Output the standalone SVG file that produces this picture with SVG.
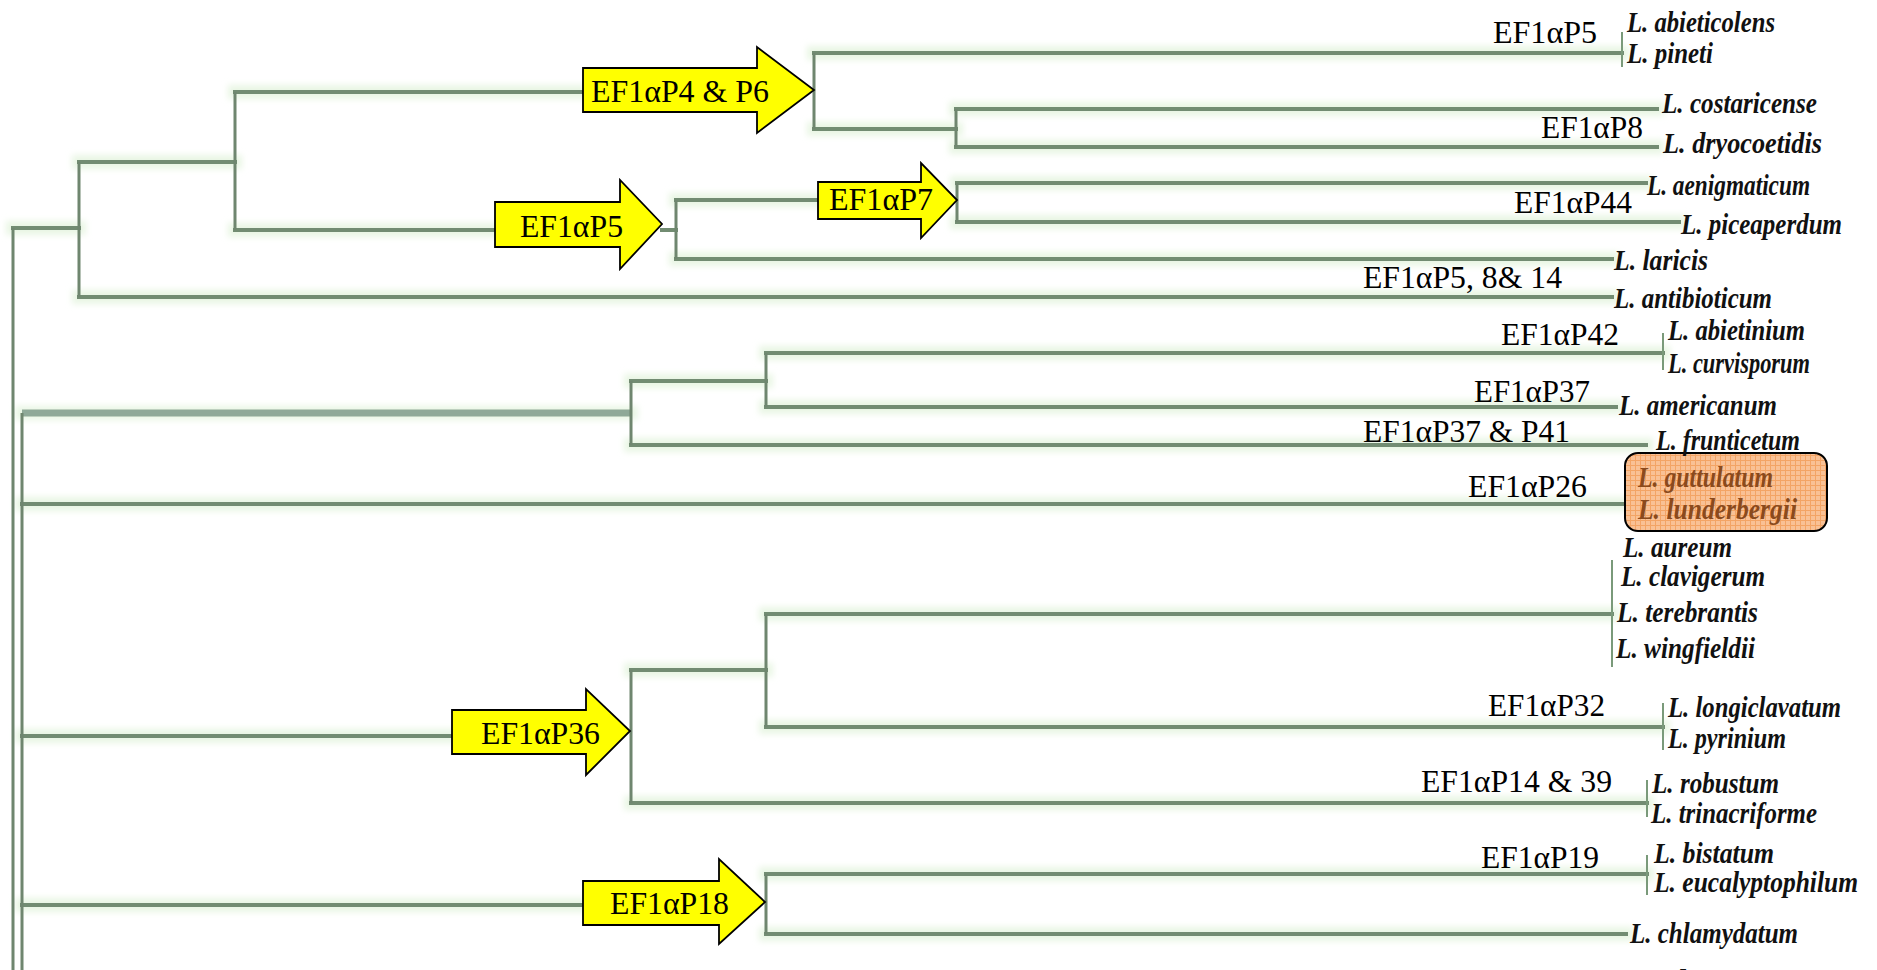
<svg xmlns="http://www.w3.org/2000/svg" width="1877" height="970" viewBox="0 0 1877 970">
  <defs>
    <style>
      .halo { fill: none; stroke: #e9f6e4; stroke-width: 14; stroke-linecap: square; }
      .br { fill: none; stroke: #728c72; stroke-width: 4; stroke-linecap: square; }
      .vt { fill: none; stroke: #6f866f; stroke-width: 3; }
      .thick { fill: none; stroke: #8fa998; stroke-width: 7; }
      .tick { fill: none; stroke: #7a9a7a; stroke-width: 2; }
      .arrow { fill: #ffff00; stroke: #000000; stroke-width: 1.8; stroke-linejoin: miter; }
      .lbl { font-family: "Liberation Serif", "Times New Roman", serif; font-size: 31px; fill: #000000; }
      .sp { font-family: "Liberation Serif", "Times New Roman", serif; font-size: 30px; font-style: italic; font-weight: bold; fill: #111111; }
      .hl { fill: #8b4a1c; }
    </style>
    <pattern id="grid" width="5" height="5" patternUnits="userSpaceOnUse">
      <rect width="5" height="5" fill="#f9c195"/>
      <path d="M0 0.5 H5 M0.5 0 V5" stroke="#f3a465" stroke-width="1"/>
    </pattern>
    <filter id="soft" x="-5%" y="-5%" width="110%" height="110%">
      <feGaussianBlur stdDeviation="3"/>
    </filter>
  </defs>

  <rect width="1877" height="970" fill="#ffffff"/>

  <!-- tree branches -->
  <g id="connectors">
    <g filter="url(#soft)">
      <path class="halo" d="M13 228 H79 M79 162 H235 M235 92 H583 M235 230 H495 M676 200 H818 M676 259 H1612 M814 53 H1622 M814 129 H956 M956 109 H1657 M956 147 H1657 M957 183 H1646 M957 222 H1679 M79 297 H1612 M22 413 H631 M631 381 H766 M766 353 H1663 M766 407 H1616 M631 445 H1646 M22 504 H1624 M22 736 H452 M631 670 H766 M766 614 H1612 M766 727 H1663 M631 803 H1647 M22 905 H583 M766 874 H1647 M766 934 H1626"/>
    </g>
    <!-- horizontal branches -->
    <path class="br" d="M13 228 H79 M79 162 H235 M235 92 H583 M235 230 H495 M662 230 H676 M676 200 H818 M676 259 H1612 M814 53 H1622 M814 129 H956 M956 109 H1657 M956 147 H1657 M957 183 H1646 M957 222 H1679 M79 297 H1612"/>
    <path class="thick" d="M22 413 H631"/>
    <path class="br" d="M631 381 H766 M766 353 H1663 M766 407 H1616 M631 445 H1646 M22 504 H1624 M22 736 H452 M631 670 H766 M766 614 H1612 M766 727 H1663 M631 803 H1647 M22 905 H583 M766 874 H1647 M766 934 H1626"/>
    <!-- vertical joins -->
    <path class="vt" d="M79 162 V297 M235 92 V230 M676 200 V259 M814 53 V129 M956 109 V147 M957 183 V222 M631 381 V445 M766 353 V407 M631 670 V803 M766 614 V727 M766 874 V934"/>
    <path class="vt" d="M13 228 V970"/>
    <path class="vt" stroke="#6aa07a" d="M22 413 V970"/>
    <!-- terminal ticks -->
    <path class="tick" d="M1622 32 V67 M1663 333 V370 M1612 560 V667 M1663 703 V750 M1647 780 V817 M1647 855 V895"/>
  </g>

  <!-- marker arrows -->
  <g id="arrow-p4-p6">
    <polygon class="arrow" points="583,68 757,68 757,47 814,90 757,133 757,112 583,112"/>
    <text class="lbl" x="591" y="102" textLength="178" lengthAdjust="spacingAndGlyphs">EF1αP4 &amp; P6</text>
  </g>
  <g id="arrow-p5">
    <polygon class="arrow" points="495,202 620,202 620,180 662,224 620,269 620,247 495,247"/>
    <text class="lbl" x="520" y="237" textLength="103" lengthAdjust="spacingAndGlyphs">EF1αP5</text>
  </g>
  <g id="arrow-p7">
    <polygon class="arrow" points="818,182 921,182 921,163 957,200 921,238 921,219 818,219"/>
    <text class="lbl" x="829" y="210" textLength="104" lengthAdjust="spacingAndGlyphs">EF1αP7</text>
  </g>
  <g id="arrow-p36">
    <polygon class="arrow" points="452,710 586,710 586,689 630,731 586,775 586,754 452,754"/>
    <text class="lbl" x="481" y="744" textLength="119" lengthAdjust="spacingAndGlyphs">EF1αP36</text>
  </g>
  <g id="arrow-p18">
    <polygon class="arrow" points="583,881 719,881 719,859 765,902 719,944 719,925 583,925"/>
    <text class="lbl" x="610" y="914" textLength="119" lengthAdjust="spacingAndGlyphs">EF1αP18</text>
  </g>

  <!-- branch labels -->
  <g id="branch-labels">
    <text class="lbl" x="1493" y="43" textLength="104" lengthAdjust="spacingAndGlyphs">EF1αP5</text>
    <text class="lbl" x="1541" y="138" textLength="102" lengthAdjust="spacingAndGlyphs">EF1αP8</text>
    <text class="lbl" x="1514" y="213" textLength="118" lengthAdjust="spacingAndGlyphs">EF1αP44</text>
    <text class="lbl" x="1363" y="288" textLength="199" lengthAdjust="spacingAndGlyphs">EF1αP5, 8&amp; 14</text>
    <text class="lbl" x="1501" y="345" textLength="118" lengthAdjust="spacingAndGlyphs">EF1αP42</text>
    <text class="lbl" x="1474" y="402" textLength="116" lengthAdjust="spacingAndGlyphs">EF1αP37</text>
    <text class="lbl" x="1363" y="442" textLength="207" lengthAdjust="spacingAndGlyphs">EF1αP37 &amp; P41</text>
    <text class="lbl" x="1468" y="497" textLength="119" lengthAdjust="spacingAndGlyphs">EF1αP26</text>
    <text class="lbl" x="1488" y="716" textLength="117" lengthAdjust="spacingAndGlyphs">EF1αP32</text>
    <text class="lbl" x="1421" y="792" textLength="191" lengthAdjust="spacingAndGlyphs">EF1αP14 &amp; 39</text>
    <text class="lbl" x="1481" y="868" textLength="118" lengthAdjust="spacingAndGlyphs">EF1αP19</text>
  </g>

  <!-- highlighted taxa -->
  <g id="taxa-highlight">
    <rect x="1625" y="453" width="202" height="78" rx="13" ry="13" fill="url(#grid)" stroke="#000000" stroke-width="2"/>
    <text class="sp hl" x="1638" y="487" textLength="135" lengthAdjust="spacingAndGlyphs">L. guttulatum</text>
    <text class="sp hl" x="1638" y="519" textLength="159" lengthAdjust="spacingAndGlyphs">L. lunderbergii</text>
  </g>

  <!-- taxa -->
  <g id="taxa">
    <text class="sp" x="1627" y="32" textLength="148" lengthAdjust="spacingAndGlyphs">L. abieticolens</text>
    <text class="sp" x="1627" y="63" textLength="86" lengthAdjust="spacingAndGlyphs">L. pineti</text>
    <text class="sp" x="1662" y="113" textLength="155" lengthAdjust="spacingAndGlyphs">L. costaricense</text>
    <text class="sp" x="1663" y="153" textLength="159" lengthAdjust="spacingAndGlyphs">L. dryocoetidis</text>
    <text class="sp" x="1647" y="195" textLength="163" lengthAdjust="spacingAndGlyphs">L. aenigmaticum</text>
    <text class="sp" x="1681" y="234" textLength="161" lengthAdjust="spacingAndGlyphs">L. piceaperdum</text>
    <text class="sp" x="1614" y="270" textLength="94" lengthAdjust="spacingAndGlyphs">L. laricis</text>
    <text class="sp" x="1614" y="308" textLength="158" lengthAdjust="spacingAndGlyphs">L. antibioticum</text>
    <text class="sp" x="1668" y="340" textLength="137" lengthAdjust="spacingAndGlyphs">L. abietinium</text>
    <text class="sp" x="1668" y="373" textLength="142" lengthAdjust="spacingAndGlyphs">L. curvisporum</text>
    <text class="sp" x="1619" y="415" textLength="158" lengthAdjust="spacingAndGlyphs">L. americanum</text>
    <text class="sp" x="1656" y="450" textLength="144" lengthAdjust="spacingAndGlyphs">L. frunticetum</text>
    <text class="sp" x="1623" y="557" textLength="109" lengthAdjust="spacingAndGlyphs">L. aureum</text>
    <text class="sp" x="1621" y="586" textLength="144" lengthAdjust="spacingAndGlyphs">L. clavigerum</text>
    <text class="sp" x="1617" y="622" textLength="141" lengthAdjust="spacingAndGlyphs">L. terebrantis</text>
    <text class="sp" x="1616" y="658" textLength="139" lengthAdjust="spacingAndGlyphs">L. wingfieldii</text>
    <text class="sp" x="1668" y="717" textLength="173" lengthAdjust="spacingAndGlyphs">L. longiclavatum</text>
    <text class="sp" x="1668" y="748" textLength="118" lengthAdjust="spacingAndGlyphs">L. pyrinium</text>
    <text class="sp" x="1652" y="793" textLength="127" lengthAdjust="spacingAndGlyphs">L. robustum</text>
    <text class="sp" x="1651" y="823" textLength="166" lengthAdjust="spacingAndGlyphs">L. trinacriforme</text>
    <text class="sp" x="1654" y="863" textLength="120" lengthAdjust="spacingAndGlyphs">L. bistatum</text>
    <text class="sp" x="1654" y="892" textLength="204" lengthAdjust="spacingAndGlyphs">L. eucalyptophilum</text>
    <text class="sp" x="1630" y="943" textLength="168" lengthAdjust="spacingAndGlyphs">L. chlamydatum</text>
    <text class="sp" x="1641" y="990" textLength="82" lengthAdjust="spacingAndGlyphs">L. bra</text>
  </g>
</svg>
